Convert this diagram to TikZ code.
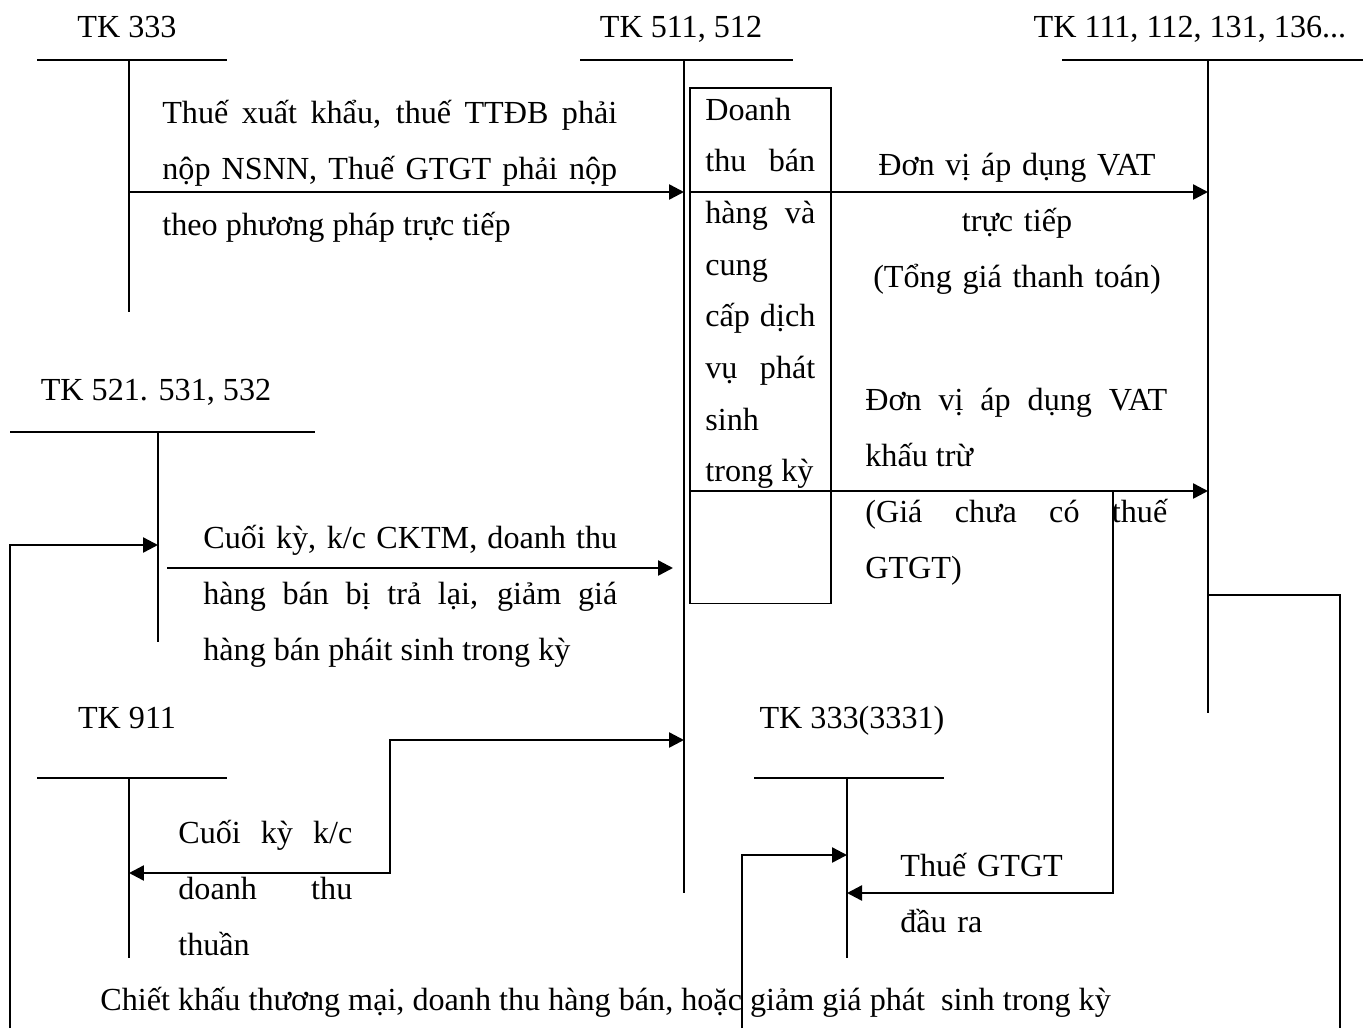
\documentclass[tikz,border=0pt]{standalone}
\usepackage{fontspec}
\setmainfont{Liberation Serif}
\usetikzlibrary{arrows.meta,positioning}

\newcommand{\tkfont}{\fontsize{18.3pt}{32pt}\selectfont}
\newcommand{\boxfont}{\fontsize{18.3pt}{29.4pt}\selectfont}
\tolerance=10000
\hyphenpenalty=10000

\begin{document}
\begin{tikzpicture}[x=0.02cm,y=-0.02cm,
		acc/.style={font=\tkfont, inner sep=0pt, anchor=base},
		note/.style={font=\tkfont, inner sep=0pt, anchor=north west,
			align=justify, execute at begin node={\parindent=0pt\strut}},
		tline/.style={line width=0.9pt},
		flow/.style={line width=1.4pt,
			-{Triangle[length=0.3cm,width=0.3cm]}},
		flowboth/.style={line width=1.4pt,
			{Triangle[length=0.3cm,width=0.3cm]}-{Triangle[length=0.3cm,width=0.3cm]}}
		]
		\useasboundingbox (0,0) rectangle (1369,1028);
		
		% account labels
		\node[acc] (tk333) at (127,37) {TK 333};
		\node[acc] (tk511) at (681,37) {TK 511, 512};
		\node[acc] (tk111) at (1190,37) {TK 111, 112, 131, 136...};
		\node[acc] (tk521) at (156,400) {TK 521. 531, 532};
		\node[acc] (tk911) at (127,728) {TK 911};
		\node[acc] (tk3331) at (852,728) {TK 333(3331)};
		
		% T accounts
		\coordinate (j333) at (129,60);
		\coordinate (j511) at (684,60);
		\coordinate (j111) at (1208,60);
		\coordinate (j521) at (158,432);
		\coordinate (j911) at (129,778);
		\coordinate (j3331) at (847,778);
		\draw[tline] (37,60) -- (227,60) (j333) -- (129,312);
		\draw[tline] (580,60) -- (793,60) (j511) -- (684,893);
		\draw[tline] (1062,60) -- (1363,60) (j111) -- (1208,713);
		\draw[tline] (10,432) -- (315,432) (j521) -- (158,642);
		\draw[tline] (37,778) -- (227,778) (j911) -- (129,958);
		\draw[tline] (754,778) -- (944,778) (j3331) -- (847,958);
		
		\node[draw, tline, anchor=north west, minimum width=2.82cm,
		minimum height=10.32cm, inner sep=0pt] (dtbox) at (689,87) {};
		
		% rows and columns for the connectors
		\coordinate (r1) at (0,192);
		\coordinate (r2) at (0,491);
		\coordinate (r3) at (0,545);
		\coordinate (r4) at (0,568);
		\coordinate (r5) at (0,595);
		\coordinate (r6) at (0,740);
		\coordinate (r7) at (0,855);
		\coordinate (r8) at (0,873);
		\coordinate (r9) at (0,893);
		\coordinate (bot) at (0,1028);
		\coordinate (cL) at (10,0);
		\coordinate (cS) at (167,0);
		\coordinate (cE) at (673,0);
		\coordinate (cK) at (390,0);
		\coordinate (cM) at (742,0);
		\coordinate (cV) at (1113,0);
		\coordinate (cR) at (1340,0);
		
		% texts
		\node[note, text width=9.1cm] (n1) at (162,83.6)
		{Thuế xuất khẩu, thuế TTĐB phải\linebreak nộp NSNN, Thuế GTGT phải nộp\linebreak theo phương pháp trực tiếp};
		\node[note, font=\boxfont, text width=2.2cm] (n2) at (705,83.8)
		{Doanh\linebreak thu bán\linebreak hàng và\linebreak cung\linebreak cấp dịch\linebreak vụ phát\linebreak sinh\linebreak trong~kỳ};
		\node[note, align=center, text width=6cm, anchor=north] (n3) at (1017,135.6)
		{Đơn vị áp dụng VAT\\trực tiếp\\(Tổng giá thanh toán)};
		\node[note, text width=8.28cm] (n4) at (203,508.6)
		{Cuối kỳ, k/c CKTM, doanh thu\linebreak hàng bán bị trả lại, giảm giá\linebreak hàng bán pháit sinh trong kỳ};
		\node[note, text width=6.04cm] (n5) at (865,370.6)
		{Đơn vị áp dụng VAT\linebreak khấu trừ\par (Giá chưa có thuế\linebreak GTGT)};
		\node[note, text width=3.48cm] (n6) at (178,803.6)
		{Cuối kỳ k/c\linebreak doanh thu\linebreak thuần};
		\node[note, align=left, text width=4cm] (n7) at (900,836.6)
		{Thuế GTGT\\đầu ra};
		\node[acc, anchor=base west] (n8) at (100,1010)
		{Chiết khấu thương mại, doanh thu hàng bán, hoặc giảm giá phát\ \ sinh trong kỳ};
		
		% connectors
		\draw[flow] (j333 |- r1) -- (j511 |- r1);
		\draw[flow] (dtbox.west |- r1) -- (j111 |- r1);
		\draw[flow] (dtbox.west |- r2) -- (j111 |- r2);
		\draw[flow] (cS |- r4) -- (cE |- r4);
		\draw[flow] (cL |- bot) -- (cL |- r3) -- (j521 |- r3);
		\draw[flowboth] (j911 |- r8) -- (cK |- r8) -- (cK |- r6) -- (j511 |- r6);
		\draw[flow] (cV |- r2) -- (cV |- r9) -- (j3331 |- r9);
		\draw[flow] (cM |- bot) -- (cM |- r7) -- (j3331 |- r7);
		\draw[line width=1.4pt] (j111 |- r5) -- (cR |- r5) -- (cR |- bot);
	\end{tikzpicture}
\end{document}
